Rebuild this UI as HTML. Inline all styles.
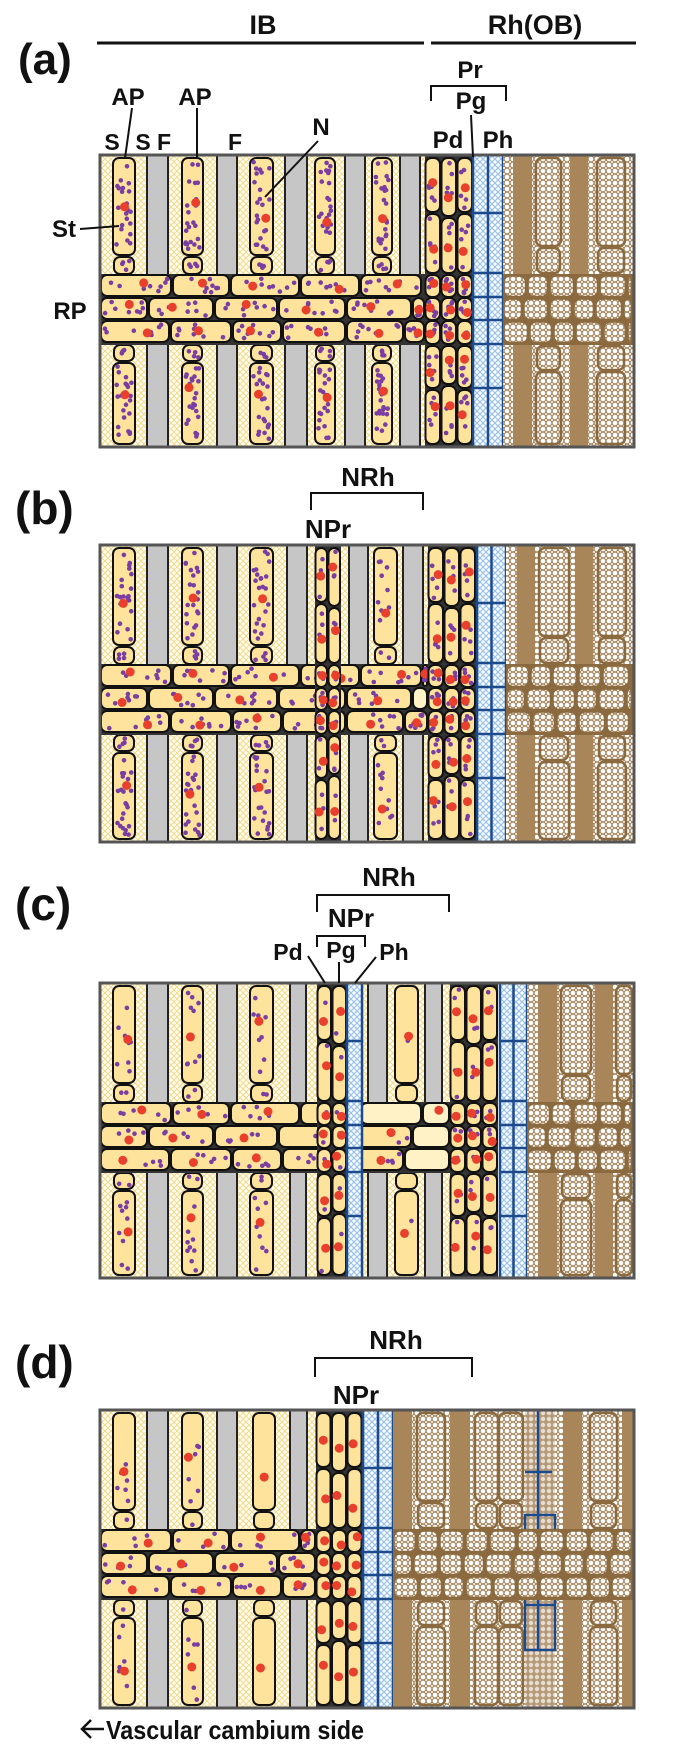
<!DOCTYPE html>
<html><head><meta charset="utf-8">
<style>
html,body{margin:0;padding:0;background:#fff;}
svg{display:block;}
text{font-family:"Liberation Sans",sans-serif;font-weight:bold;fill:#111;}
</style></head>
<body>
<svg id="s" width="685" height="1751" viewBox="0 0 685 1751" xmlns="http://www.w3.org/2000/svg">
<defs>
<pattern id="cr" width="6" height="6" patternUnits="userSpaceOnUse"><rect width="6" height="6" fill="#fffdf2"/><path d="M0 0L6 6M6 0L0 6" stroke="#f4d98a" stroke-width="1"/></pattern>
<pattern id="bl" width="6" height="6" patternUnits="userSpaceOnUse"><rect width="6" height="6" fill="#ffffff"/><path d="M0 0L6 6M6 0L0 6" stroke="#9cc4ea" stroke-width="1.3"/></pattern>
<pattern id="br" width="6" height="6" patternUnits="userSpaceOnUse"><rect width="6" height="6" fill="#a88a63"/><circle cx="3" cy="3" r="2.3" fill="#fff"/><circle cx="0" cy="0" r="1" fill="#fff"/><circle cx="6" cy="6" r="1" fill="#fff"/><circle cx="0" cy="6" r="1" fill="#fff"/><circle cx="6" cy="0" r="1" fill="#fff"/></pattern>
<pattern id="br2" width="6" height="6" patternUnits="userSpaceOnUse"><rect width="6" height="6" fill="#b49a78"/><circle cx="3" cy="3" r="2.2" fill="#e8ddd0"/></pattern>
</defs>
<g id="g"></g>
<text x="18" y="74" font-size="44">(a)</text>
<text x="263" y="34" font-size="27" text-anchor="middle">IB</text>
<line x1="97" y1="43" x2="424" y2="43" stroke="#111" stroke-width="3"/>
<line x1="431" y1="43" x2="636" y2="43" stroke="#111" stroke-width="3"/>
<text x="535" y="34" font-size="27" text-anchor="middle">Rh(OB)</text>
<text x="470" y="78" font-size="24" text-anchor="middle">Pr</text>
<path d="M431 101V86H506V101" fill="none" stroke="#111" stroke-width="2"/>
<text x="471" y="109" font-size="24" text-anchor="middle">Pg</text>
<text x="448" y="148" font-size="24" text-anchor="middle">Pd</text>
<text x="498" y="148" font-size="24" text-anchor="middle">Ph</text>
<line x1="471" y1="115" x2="473" y2="157" stroke="#111" stroke-width="2"/>
<text x="128" y="105" font-size="24" text-anchor="middle">AP</text>
<line x1="132" y1="108" x2="125" y2="158" stroke="#111" stroke-width="2"/>
<text x="195" y="105" font-size="24" text-anchor="middle">AP</text>
<line x1="197" y1="108" x2="197" y2="158" stroke="#111" stroke-width="2"/>
<text x="112" y="150" font-size="23" text-anchor="middle">S</text>
<text x="143" y="150" font-size="23" text-anchor="middle">S</text>
<text x="164" y="150" font-size="23" text-anchor="middle">F</text>
<text x="235" y="150" font-size="23" text-anchor="middle">F</text>
<text x="321" y="135" font-size="24" text-anchor="middle">N</text>
<line x1="318" y1="141" x2="265" y2="197" stroke="#111" stroke-width="2"/>
<text x="64" y="237" font-size="24" text-anchor="middle">St</text>
<line x1="80" y1="229" x2="119" y2="226" stroke="#111" stroke-width="2"/>
<text x="70" y="319" font-size="24" text-anchor="middle">RP</text>
<text x="15" y="524" font-size="46">(b)</text>
<text x="368" y="486" font-size="26" text-anchor="middle">NRh</text>
<path d="M311 510V493H423V510" fill="none" stroke="#111" stroke-width="2"/>
<text x="328" y="538" font-size="26" text-anchor="middle">NPr</text>
<text x="15" y="920" font-size="46">(c)</text>
<text x="389" y="886" font-size="26" text-anchor="middle">NRh</text>
<path d="M317 912V895H449V912" fill="none" stroke="#111" stroke-width="2"/>
<text x="351" y="927" font-size="26" text-anchor="middle">NPr</text>
<path d="M317 947V936H365V947" fill="none" stroke="#111" stroke-width="2"/>
<text x="341" y="958" font-size="23" text-anchor="middle">Pg</text>
<text x="288" y="960" font-size="23" text-anchor="middle">Pd</text>
<text x="394" y="960" font-size="23" text-anchor="middle">Ph</text>
<line x1="308" y1="956" x2="325" y2="983" stroke="#111" stroke-width="2"/>
<line x1="339" y1="962" x2="339" y2="983" stroke="#111" stroke-width="2"/>
<line x1="376" y1="957" x2="355" y2="983" stroke="#111" stroke-width="2"/>
<text x="15" y="1378" font-size="46">(d)</text>
<text x="396" y="1349" font-size="26" text-anchor="middle">NRh</text>
<path d="M315 1377V1358H472V1377" fill="none" stroke="#111" stroke-width="2"/>
<text x="356" y="1404" font-size="26" text-anchor="middle">NPr</text>
<path d="M82 1729H104M91 1720L82 1729L91 1738" fill="none" stroke="#111" stroke-width="2.5"/>
<text x="106" y="1739" font-size="26" textLength="258" lengthAdjust="spacingAndGlyphs">Vascular cambium side</text>
</svg>
<script>
(function(){
var S=[];function add(s){S.push(s);}
var seed=7;function rnd(){seed=(seed*16807)%2147483647;return seed/2147483647;}
function R(x,y,w,h,f,st,sw,rx){add('<rect x="'+x+'" y="'+y+'" width="'+w+'" height="'+h+'" fill="'+f+'"'+(st?' stroke="'+st+'" stroke-width="'+sw+'"':'')+' rx="'+(rx||0)+'"/>');}
function C(x,y,r,f){add('<circle cx="'+x.toFixed(1)+'" cy="'+y.toFixed(1)+'" r="'+r+'" fill="'+f+'"/>');}
function L(x1,y1,x2,y2,c,w){add('<line x1="'+x1+'" y1="'+y1+'" x2="'+x2+'" y2="'+y2+'" stroke="'+c+'" stroke-width="'+w+'"/>');}
function cell(x,y,w,h,np,nuc,fill){
  if(w<3||h<3)return;
  R(x,y,w,h,fill||'#fde39b','#111',2,Math.min(6,w/2,h/2));
  for(var i=0;i<np;i++)C(x+3.5+rnd()*(w-7),y+3.5+rnd()*(h-7),2.3,'#7a3ea3');
  if(nuc)C(x+w*(0.3+rnd()*0.4),y+h*(0.3+rnd()*0.4),4.5,'#e8402c');
}
function bcell(x,y,w,h){R(x,y,w,h,'url(#br)','#8b6a40',2.5,6);}
function panel(T,H,c){
  var B=T+H;
  R(100,T,534,H,'#fff');
  R(100,T,c.ib-100,H,'url(#cr)');
  c.gray.forEach(function(g){R(g[0],T,g[1],H,'#c6c6c6');L(g[0],T,g[0],B,'#222',2);L(g[0]+g[1],T,g[0]+g[1],B,'#222',2);});
  c.ap.forEach(function(a){var x=a[0],w=a[1],d=a[2];
    cell(x,T+3,w,97,d,true);cell(x+1,T+102,w-2,17,Math.round(d/5),false);
    cell(x+1,T+190,w-2,16,Math.round(d/5),false);cell(x,T+208,w,H-211,d,true);});
  R(100,T+119,c.ib-100,71,'#333');
  var rows=[[72,58,70,60,62,64,56,68,60],[48,66,64,68,66,60,58,70,62],[70,62,50,64,58,66,60,64,60]];
  for(var r=0;r<3;r++){var y=T+120+r*23,x=100,k=0;
    while(x<c.ib-3){var w=rows[r][k%9];k++;var ww=Math.min(w,c.ib-x);
      var pale=c.pale&&c.pale(r,x);
      cell(x+1,y,ww-2,21,pale?0:c.rpd,!pale||rnd()<0.3,pale?'#fff2c6':null);x+=w;}}
  c.pd.forEach(function(p){var x=p[0],n=p[1],cw=p[2],d=p[3];
    R(x,T,n*cw,H,'#333');
    for(var i=0;i<n;i++){var cx=x+i*cw+0.5,o=(i%2)*4;
      var segs=[[T+3,T+57+o],[T+59+o,T+118],[T+120,T+142],[T+143,T+165],[T+166,T+189],[T+191,T+233-o],[T+235-o,B-3]];
      segs.forEach(function(s){cell(cx,s[0],cw-1.5,s[1]-s[0],d,true);});}});
  c.bl.forEach(function(b){var x=b[0],n=b[1],cw=b[2];
    R(x,T,n*cw,H,'url(#bl)');
    [T+58,T+118,T+142,T+165,T+189,T+233].forEach(function(y){L(x,y,x+n*cw,y,'#1d4a8a',2.5);});
    for(var i=0;i<=n;i++)L(x+i*cw,T,x+i*cw,B,'#1d4a8a',2.5);});
  var x0=c.brx,x1=634;
  R(x0,T,x1-x0,H,'url(#br)');
  c.bands.forEach(function(b){R(b[0],T,b[1],119,'#a8865a');R(b[0],T+190,b[1],H-190,'#a8865a');});
  c.cells.forEach(function(b){var x=b[0],w=b[1];
    bcell(x,T+3,w,88);bcell(x+1,T+93,w-2,25);bcell(x+1,T+191,w-2,24);bcell(x,T+217,w,H-220);});
  if(c.sp){var sx=c.sp;R(sx,T,30,H,'url(#br2)');
    L(sx+13,T,sx+13,T+240,'#1d4a8a',2.5);L(sx,T+62,sx+27,T+62,'#1d4a8a',2.5);
    add('<rect x="'+sx+'" y="'+(T+105)+'" width="30" height="135" fill="none" stroke="#1d4a8a" stroke-width="2.5"/>');
    L(sx,T+150,sx+30,T+150,'#1d4a8a',2.5);L(sx,T+195,sx+30,T+195,'#1d4a8a',2.5);}
  R(x0,T+119,x1-x0,71,'#8b6a40');
  var bw=[[24,22,26,24,28,22,26,24,26,24,22],[20,26,24,22,28,24,26,22,24,26,24],[26,24,22,28,24,22,26,24,22,26,24]];
  for(var r=0;r<3;r++){var y=T+121+r*23,x=x0+1,k=0;
    while(x<x1-3){var w=bw[r][k%11];k++;var ww=Math.min(w,x1-x);R(x,y,ww-2.5,20.5,'url(#br)','#8b6a40',1.5,6);x+=w;}}
  add('<rect x="100" y="'+T+'" width="534" height="'+H+'" fill="none" stroke="#555" stroke-width="3"/>');
}
panel(155,292,{ib:425,rpd:8,
  gray:[[147,21],[217,20],[285,22],[345,20],[400,20]],
  ap:[[113,22,22],[182,21,22],[250,23,22],[315,20,22],[372,20,22]],
  pd:[[425,3,16,5]],bl:[[473,2,15]],brx:503,
  bands:[[513,19],[570,18]],cells:[[536,25],[597,28]]});
panel(545,297,{ib:428,rpd:7,
  pale:function(r,x){return r==1&&x>=360&&x<420;},
  gray:[[147,21],[217,20],[287,20],[349,19],[403,20]],
  ap:[[113,22,22],[182,21,22],[250,23,22],[374,23,10]],
  pd:[[315,2,13,3],[428,3,16,4]],bl:[[477,2,14.5]],brx:506,
  bands:[[517,18],[575,18]],cells:[[539,30],[598,28]]});
panel(983,295,{ib:450,rpd:5,
  pale:function(r,x){return x>=360&&x<440;},
  gray:[[147,21],[217,20],[290,16],[368,19],[425,17]],
  ap:[[113,22,9],[182,21,9],[250,23,8],[395,23,1]],
  pd:[[317,2,15,1],[450,3,16,2]],bl:[[347,1,15],[500,2,13.5]],brx:527,
  bands:[[538,19],[595,18]],cells:[[561,30],[616,16]]});
panel(1410,298,{ib:316,rpd:4,
  gray:[[147,21],[217,20],[290,17]],
  ap:[[113,22,6],[182,21,6],[253,22,0]],
  pd:[[316,3,15.5,0]],bl:[[363,2,15]],brx:393,sp:525,
  bands:[[393,19],[450,20],[563,19],[622,12]],cells:[[417,28],[475,23],[499,24],[590,27]]});
document.getElementById('g').innerHTML=S.join('');
})();
</script>
</body></html>
